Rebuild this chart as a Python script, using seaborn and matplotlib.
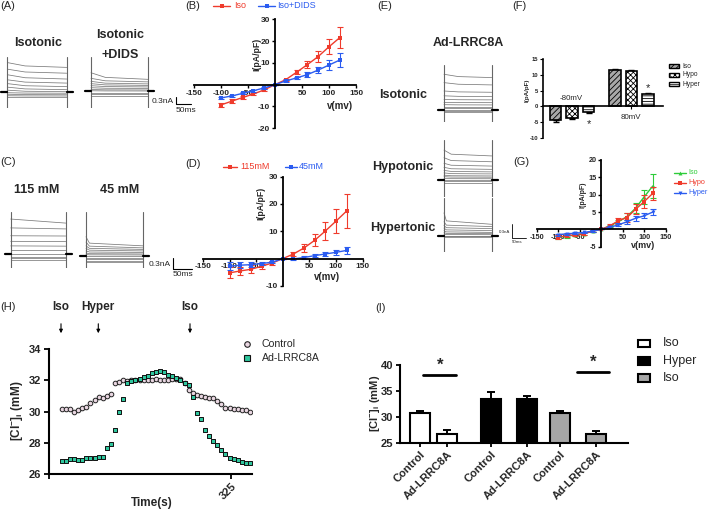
import numpy as np
import matplotlib
matplotlib.use('Agg')
import matplotlib.pyplot as plt
import seaborn as sns
from matplotlib.lines import Line2D
from matplotlib.patches import Rectangle

sns.set_style('ticks')
plt.rcParams['font.family'] = ['Liberation Sans', 'DejaVu Sans']
plt.rcParams['mathtext.fontset'] = 'custom'
plt.rcParams['mathtext.rm'] = 'Liberation Sans'
plt.rcParams['mathtext.bf'] = 'Liberation Sans:bold'
plt.rcParams['hatch.linewidth'] = 0.6

# ---------------- data ----------------
volt = [-100, -80, -60, -40, -20, 0, 20, 40, 60, 80, 100, 120]

B_iso = [-9.3, -7.6, -5.9, -4.3, -2.4, 0, 2.3, 5.7, 9.2, 12.9, 17.4, 21.6]
B_iso_err = [1.0, 0.8, 0.6, 0.6, 0.5, 0, 0.5, 0.8, 1.5, 2.5, 3.5, 4.8]
B_dids = [-6.1, -5.2, -4.0, -2.8, -1.5, 0, 1.7, 3.1, 4.6, 6.7, 9.0, 11.3]
B_dids_err = [0.5, 0.5, 0.4, 0.4, 0.3, 0, 0.4, 0.6, 1.0, 1.5, 2.3, 3.0]

D_115 = [-5.2, -4.5, -3.9, -2.8, -1.6, 0, 1.7, 3.9, 6.7, 10.1, 13.7, 17.4]
D_115_err = [2.0, 1.6, 1.5, 1.0, 0.6, 0, 0.6, 1.5, 2.2, 3.2, 4.5, 6.2]
D_45 = [-2.8, -2.4, -2.2, -1.8, -1.3, 0, -0.1, 0.4, 1.1, 1.7, 2.3, 3.0]
D_45_err = [1.5, 1.2, 1.0, 0.6, 0.4, 0, 0.3, 0.4, 0.5, 0.8, 1.0, 1.2]

G_iso = [-2.3, -2.0, -1.6, -1.2, -0.5, 0, 1.0, 2.2, 3.7, 6.1, 9.4, 12.5]
G_iso_err = [0.5, 0.4, 0.4, 0.3, 0.2, 0, 0.3, 0.6, 1.0, 1.5, 2.0, 3.5]
G_hypo = [-2.3, -1.8, -1.6, -1.3, -0.5, 0, 1.0, 2.5, 3.4, 5.8, 8.0, 10.4]
G_hypo_err = [0.6, 0.5, 0.4, 0.4, 0.3, 0, 0.6, 0.9, 1.2, 1.5, 1.8, 1.8]
G_hyper = [-1.5, -1.3, -1.1, -0.9, -0.5, 0, 0.6, 1.3, 2.2, 3.2, 3.9, 5.0]
G_hyper_err = [0.3, 0.3, 0.3, 0.2, 0.2, 0, 0.3, 0.4, 0.6, 0.7, 0.7, 1.0]

F_groups = ['-80mV', '80mV']
F_iso = [-4.5, 11.5]
F_hypo = [-3.7, 11.2]
F_hyper = [-1.8, 3.8]
F_iso_err = [0.6, 0.5]
F_hypo_err = [0.4, 0.4]
F_hyper_err = [0.3, 0.4]

H_control = [30.15, 30.15, 30.15, 30.0, 30.1, 30.2, 30.3, 30.55, 30.75, 30.9,
             30.85, 31.0, 31.1, 31.8, 31.9, 32.0, 31.95, 32.0, 32.0, 32.0,
             32.0, 32.0, 32.0, 32.1, 32.0, 32.0, 32.0, 32.05, 32.1, 32.05,
             31.8, 31.35, 31.2, 31.05, 31.0, 30.9, 30.85, 30.85, 30.7, 30.45,
             30.2, 30.2, 30.15, 30.15, 30.1, 30.1, 30.0]
H_ad = [26.85, 26.85, 26.95, 26.95, 26.9, 26.9, 27.0, 27.0, 27.05, 27.1,
        27.1, 27.65, 27.9, 28.8, 30.0, 30.8, 31.8, 31.95, 32.0, 32.1,
        32.2, 32.3, 32.45, 32.55, 32.6, 32.5, 32.35, 32.3, 32.15, 32.0,
        31.85, 31.7, 30.95, 29.9, 29.55, 28.8, 28.45, 28.1, 27.85, 27.55,
        27.3, 27.05, 26.95, 26.9, 26.75, 26.7, 26.7]
H_time = 35 + 7 * np.arange(len(H_control))

I_labels = ['Control', 'Ad-LRRC8A', 'Control', 'Ad-LRRC8A', 'Control', 'Ad-LRRC8A']
I_vals = [30.8, 26.7, 33.4, 33.4, 30.8, 26.6]
I_err = [0.4, 0.7, 1.3, 0.7, 0.4, 0.6]

# current traces (nA, relative to holding level): start and end of the step
A_iso_start = [1.15, 0.89, 0.67, 0.47, 0.32, 0.18, 0.06, -0.04, -0.10, -0.16, -0.22]
A_iso_end = [0.96, 0.73, 0.50, 0.34, 0.20, 0.08, 0.0, -0.06, -0.12, -0.17, -0.22]
A_dids_start = [0.72, 0.50, 0.38, 0.29, 0.21, 0.13, 0.06, 0.01, -0.06, -0.12, -0.18]
A_dids_end = [0.46, 0.36, 0.28, 0.22, 0.16, 0.10, 0.04, 0.0, -0.06, -0.12, -0.18]
C_115_start = [1.38, 1.03, 0.72, 0.50, 0.32, 0.16, 0.0, -0.10, -0.16, -0.22]
C_115_end = [1.22, 0.99, 0.71, 0.49, 0.31, 0.16, 0.0, -0.10, -0.16, -0.22]
C_45_start = [0.76, 0.55, 0.40, 0.30, 0.20, 0.12, 0.06, 0.0, -0.06, -0.12, -0.18, -0.24]
C_45_end = [0.40, 0.32, 0.26, 0.20, 0.14, 0.08, 0.04, 0.0, -0.06, -0.12, -0.18, -0.24]
E_iso_start = [1.41, 1.08, 0.75, 0.56, 0.42, 0.30, 0.21, 0.13, 0.07, 0.0, -0.04, -0.08]
E_iso_end = [1.28, 0.99, 0.70, 0.53, 0.40, 0.29, 0.20, 0.13, 0.07, 0.0, -0.04, -0.08]
E_hypo_start = [1.18, 0.88, 0.66, 0.50, 0.38, 0.28, 0.19, 0.13, 0.06, 0.0, -0.05, -0.11]
E_hypo_end = [0.95, 0.72, 0.55, 0.42, 0.32, 0.24, 0.16, 0.11, 0.05, 0.0, -0.05, -0.11]
E_hyper_start = [0.90, 0.55, 0.40, 0.30, 0.20, 0.12, 0.06, 0.0, -0.02, -0.05]
E_hyper_end = [0.45, 0.36, 0.28, 0.20, 0.13, 0.08, 0.04, 0.0, -0.02, -0.05]

RED = '#ef3b2c'
BLUE = '#2b5cf0'
GREEN = '#2ecc3a'

# ---------------- figure helpers ----------------
W, H = 709, 512
fig = plt.figure(figsize=(W / 100, H / 100), dpi=100)


def add_ax(x0, y0, x1, y1):
    return fig.add_axes([x0 / W, 1 - y1 / H, (x1 - x0) / W, (y1 - y0) / H])


def ftext(x, y, s, **kw):
    kw.setdefault('ha', 'center')
    kw.setdefault('va', 'center')
    return fig.text(x / W, 1 - y / H, s, **kw)


def fline(xs, ys, **kw):
    ln = Line2D([x / W for x in xs], [1 - y / H for y in ys], transform=fig.transFigure, **kw)
    fig.add_artist(ln)
    return ln


K = 0.3 / 7.6  # nA per pixel


def traces(x0, y0, x1, y1, base, starts, ends, knee):
    w = x1 - x0
    ax = add_ax(x0 - 8, y0, x1 + 8, y1)
    ax.set_xlim(-8 / w, 1 + 8 / w)
    lo, hi = -(y1 - base) * K, (base - y0) * K
    ax.set_ylim(lo, hi)
    for s, e in zip(starts, ends):
        ax.plot([0, knee, 1], [s, e + 0.3 * (s - e), e], color='#7a7a7a', lw=0.55)
    ax.plot([0, 0], [lo, hi], color='#666666', lw=0.8)
    ax.plot([1, 1], [lo, hi], color='#666666', lw=0.8)
    ax.plot([-6 / w, 0], [0, 0], color='black', lw=1.6)
    ax.plot([1, 1 + 6 / w], [0, 0], color='black', lw=1.6)
    ax.axis('off')
    return ax


def scalebar(xb, yt, yb, xr, tx, ty, fs1, fs2, lw=0.8):
    fline([xb, xb, xr], [yt, yb, yb], color='black', lw=lw)
    ftext(xb - 2, (yt + yb) / 2 + 1, '0.3nA', ha='right', fontsize=fs1)
    ftext(tx, ty, '50ms', ha='left', fontsize=fs2)


def iv_panel(box, xlim, ylim, yticks, series, fs=6, ms=3.2):
    ax = add_ax(*box)
    for y, err, color, marker in series:
        sns.lineplot(x=volt, y=y, ax=ax, color=color, marker=marker, markersize=ms,
                     markeredgewidth=0, linewidth=1.0, legend=False, errorbar=None)
        ax.errorbar(volt, y, yerr=err, fmt='none', ecolor=color, elinewidth=0.8,
                    capsize=2, capthick=0.8)
    ax.set_xlim(*xlim)
    ax.set_ylim(*ylim)
    ax.spines['left'].set_position(('data', 0))
    ax.spines['bottom'].set_position(('data', 0))
    ax.spines['top'].set_visible(False)
    ax.spines['right'].set_visible(False)
    for sp in ('left', 'bottom'):
        ax.spines[sp].set_linewidth(1.3)
        ax.spines[sp].set_color('black')
    xt = [-150, -100, -50, 50, 100, 150]
    ax.set_xticks(xt)
    ax.set_xticklabels([str(v) for v in xt], fontsize=fs, fontweight='bold')
    ax.set_yticks(yticks)
    ax.set_yticklabels([str(v) for v in yticks], fontsize=fs, fontweight='bold')
    ax.tick_params(direction='out', length=2.5, width=1.0, pad=1, color='black')
    ax.set_xlabel('')
    ax.set_ylabel('')
    ax.patch.set_alpha(0)
    return ax


def leg_line(x0, x1, y, color, marker, text, tx, fs, ms=3.2):
    fline([x0, x1], [y, y], color=color, lw=1.0)
    fline([(x0 + x1) / 2], [y], color=color, marker=marker, markersize=ms, markeredgewidth=0)
    ftext(tx, y, text, ha='left', fontsize=fs, color=color)


# ---------------- panel labels ----------------
for lab, x, y in [('(A)', 0, 6), ('(B)', 185, 6), ('(C)', 0, 162), ('(D)', 185, 164),
                  ('(E)', 377, 6), ('(F)', 512, 6), ('(G)', 513, 162), ('(H)', 0, 307),
                  ('(I)', 375, 308)]:
    ftext(x, y, lab, ha='left', fontsize=8)

# ---------------- A ----------------
ftext(38, 42.7, 'Isotonic', fontsize=9, fontweight='bold')
ftext(120, 35, 'Isotonic', fontsize=9, fontweight='bold')
ftext(120, 55, '+DIDS', fontsize=9, fontweight='bold')
traces(7.3, 57, 66.7, 108, 91.7, A_iso_start, A_iso_end, 0.3)
traces(91, 57, 148.3, 108, 91, A_dids_start, A_dids_end, 0.25)
scalebar(175.7, 96.7, 104.3, 191, 175.5, 111, 6, 6)

# ---------------- C ----------------
ftext(37, 190, '115 mM', fontsize=9, fontweight='bold')
ftext(120, 190, '45 mM', fontsize=9, fontweight='bold')
traces(10.7, 211.7, 65.7, 268, 254, C_115_start, C_115_end, 0.7)
traces(86, 211.7, 143.3, 268, 256, C_45_start, C_45_end, 0.06)
scalebar(173, 258, 269, 192, 173, 274.5, 6, 6)

# ---------------- B ----------------
iv_panel((194, 19.3, 356, 128.2), (-150, 150), (-20, 30), [-20, -10, 10, 20, 30],
         [(B_iso, B_iso_err, RED, 's'), (B_dids, B_dids_err, BLUE, 's')])
ftext(340, 105.7, 'v(mv)', fontsize=7, fontweight='bold')
ftext(257, 54, 'I(pA/pF)', fontsize=6.3, fontweight='bold', rotation=90)
leg_line(213, 230, 5.5, RED, 's', 'Iso', 234, 6.5)
leg_line(258, 275, 5.5, BLUE, 's', 'Iso+DIDS', 277.5, 6.5)

# ---------------- D ----------------
iv_panel((203, 176.5, 362.6, 286), (-150, 150), (-10, 30), [-10, 10, 20, 30],
         [(D_115, D_115_err, RED, 's'), (D_45, D_45_err, BLUE, 's')])
ftext(326.7, 276.7, 'v(mv)', fontsize=7, fontweight='bold')
ftext(260.5, 203, 'I(pA/pF)', fontsize=6.3, fontweight='bold', rotation=90)
leg_line(223, 237, 166.7, RED, 's', '115mM', 240, 6.5)
leg_line(285, 297, 166.7, BLUE, 's', '45mM', 298.5, 6.5)

# ---------------- E ----------------
ftext(468, 43.3, 'Ad-LRRC8A', fontsize=9, fontweight='bold')
ftext(403, 95, 'Isotonic', fontsize=9, fontweight='bold')
ftext(403, 167, 'Hypotonic', fontsize=9, fontweight='bold')
ftext(403, 228, 'Hypertonic', fontsize=9, fontweight='bold')
traces(444, 65, 491.7, 121.7, 110, E_iso_start, E_iso_end, 0.3)
traces(444, 140, 491.7, 196.7, 180, E_hypo_start, E_hypo_end, 0.15)
traces(444, 198, 491.7, 251.7, 235.7, E_hyper_start, E_hyper_end, 0.05)
scalebar(511.7, 224, 237.7, 525.7, 512, 241.7, 3.2, 3.2, lw=0.6)

# ---------------- F ----------------
axF = add_ax(542.7, 59.3, 662.7, 137.7)
f_pos = [0, 1, 2, 3.62, 4.6, 5.62]
f_vals = [F_iso[0], F_hypo[0], F_hyper[0], F_iso[1], F_hypo[1], F_hyper[1]]
f_err = [F_iso_err[0], F_hypo_err[0], F_hyper_err[0], F_iso_err[1], F_hypo_err[1], F_hyper_err[1]]
f_face = ['#a8a8a8', 'white', 'white'] * 2
f_hatch = ['//////', 'xxxxxx', '------'] * 2
for p, v, e, fc, ht in zip(f_pos, f_vals, f_err, f_face, f_hatch):
    axF.bar(p, v, width=0.7, color=fc, edgecolor='black', linewidth=1.2, hatch=ht, zorder=2)
    axF.errorbar(p, v, yerr=[[e if v < 0 else 0], [e if v > 0 else 0]], fmt='none',
                 ecolor='black', elinewidth=1.0, capsize=2.2, capthick=1.0, zorder=1)
axF.set_xlim(-0.78, 6.5)
axF.set_ylim(-10, 15)
axF.spines['bottom'].set_position(('data', 0))
axF.spines['top'].set_visible(False)
axF.spines['right'].set_visible(False)
for sp in ('left', 'bottom'):
    axF.spines[sp].set_linewidth(1.2)
    axF.spines[sp].set_color('black')
axF.set_xticks([4.6])
axF.set_xticklabels([''])
axF.set_yticks([-10, -5, 0, 5, 10, 15])
axF.set_yticklabels(['-10', '-5', '0', '5', '10', '15'], fontsize=4.2, fontweight='bold')
axF.tick_params(direction='out', length=2, width=0.8, pad=1, color='black')
axF.patch.set_alpha(0)
ftext(571, 99, F_groups[0], fontsize=5.7)
ftext(631, 117.3, F_groups[1], fontsize=5.7)
ftext(588.7, 124, '*', fontsize=8)
ftext(647.7, 88, '*', fontsize=8)
ftext(526.7, 90, 'I(pA/pF)', fontsize=4.5, fontweight='bold', rotation=90)
for y, fc, ht, lab in [(66, '#a8a8a8', '//////', 'Iso'), (75, 'white', 'xxxxxx', 'Hypo'),
                       (84, 'white', '------', 'Hyper')]:
    r = Rectangle((669.3 / W, 1 - (y + 2.3) / H), 10 / W, 4.6 / H, transform=fig.transFigure,
                  facecolor=fc, edgecolor='black', linewidth=1.0, hatch=ht)
    fig.add_artist(r)
    ftext(682.7, y, lab, ha='left', fontsize=4.8)

# ---------------- G ----------------
iv_panel((536.7, 160, 665.7, 246.7), (-150, 150), (-5, 20), [-5, 5, 10, 15, 20],
         [(G_iso, G_iso_err, GREEN, '^'), (G_hypo, G_hypo_err, RED, 's'),
          (G_hyper, G_hyper_err, BLUE, 'v')], fs=5.2, ms=2.8)
ftext(643, 245.5, 'v(mv)', fontsize=6.5, fontweight='bold')
ftext(583, 195, 'I(pA/pF)', fontsize=5.0, fontweight='bold', rotation=90)
leg_line(674, 686, 172.7, GREEN, '^', 'Iso', 688, 5.2, ms=2.8)
leg_line(674, 686, 182.7, RED, 's', 'Hypo', 688, 5.2, ms=2.8)
leg_line(674, 686, 192.7, BLUE, 'v', 'Hyper', 688, 5.2, ms=2.8)

# ---------------- H ----------------
axH = add_ax(49, 349, 251.7, 474)
sns.scatterplot(x=H_time, y=H_control, ax=axH, marker='o', s=11, facecolor='#ead7e2',
                edgecolor='#222222', linewidth=0.7, legend=False, zorder=3)
sns.scatterplot(x=H_time, y=H_ad, ax=axH, marker='s', s=11, facecolor='#2fc79e',
                edgecolor='#111111', linewidth=0.7, legend=False, zorder=4)
axH.set_xlim(13, 360)
axH.set_ylim(26, 34)
axH.spines['top'].set_visible(False)
axH.spines['right'].set_visible(False)
for sp in ('left', 'bottom'):
    axH.spines[sp].set_linewidth(1.5)
    axH.spines[sp].set_color('black')
axH.set_yticks([26, 28, 30, 32, 34])
axH.set_yticklabels(['26', '28', '30', '32', '34'], fontsize=8, fontweight='bold')
axH.set_xticks([13, 325])
axH.set_xticklabels(['', '325'], fontsize=8, fontweight='bold', rotation=45, ha='right',
                    rotation_mode='anchor')
axH.tick_params(direction='out', length=3.5, width=1.3, pad=2, color='black')
axH.set_xlabel('')
axH.set_ylabel('')
axH.patch.set_alpha(0)
ftext(151.7, 503, 'Time(s)', fontsize=8.5, fontweight='bold')
ftext(16.7, 411, r'[Cl$^{\mathbf{-}}$]$_{\mathbf{i}}$ (mM)', fontsize=8.5, fontweight='bold', rotation=90)
for x, lab in [(61, 'Iso'), (98.3, 'Hyper'), (190, 'Iso')]:
    ftext(x, 306.7, lab, fontsize=8.5, fontweight='bold')
    axH.annotate('', xy=(x / W, 1 - 336 / H), xytext=(x / W, 1 - 321 / H),
                 xycoords='figure fraction', textcoords='figure fraction',
                 arrowprops=dict(arrowstyle='-|>', lw=0.8, color='black', mutation_scale=5),
                 annotation_clip=False)
fline([246.7], [344], marker='o', markersize=4, markerfacecolor='#ead7e2',
      markeredgecolor='#222222', markeredgewidth=0.8, linestyle='none')
fline([246.7], [358.3], marker='s', markersize=4, markerfacecolor='#2fc79e',
      markeredgecolor='#111111', markeredgewidth=0.8, linestyle='none')
ftext(261.5, 344, 'Control', ha='left', fontsize=7.6)
ftext(261.5, 358.3, 'Ad-LRRC8A', ha='left', fontsize=7.6)

# ---------------- I ----------------
axI = add_ax(400, 365, 628, 442.7)
i_pos = [0, 0.92, 2.42, 3.65, 4.78, 6.01]
i_face = ['white', 'white', 'black', 'black', '#a6a6a6', '#a6a6a6']
for p, v, e, fc in zip(i_pos, I_vals, I_err, i_face):
    axI.bar(p, v, width=0.7, color=fc, edgecolor='black', linewidth=1.5, zorder=2)
    axI.errorbar(p, v, yerr=[[0], [e]], fmt='none', ecolor='black', elinewidth=1.4,
                 capsize=3, capthick=1.4, zorder=1)
axI.set_xlim(-0.68, 7.1)
axI.set_ylim(25, 40)
axI.spines['top'].set_visible(False)
axI.spines['right'].set_visible(False)
for sp in ('left', 'bottom'):
    axI.spines[sp].set_linewidth(1.5)
    axI.spines[sp].set_color('black')
axI.set_yticks([25, 30, 35, 40])
axI.set_yticklabels(['25', '30', '35', '40'], fontsize=8, fontweight='bold')
axI.set_xticks(i_pos)
axI.set_xticklabels(I_labels, fontsize=8, fontweight='bold', rotation=45, ha='right',
                    rotation_mode='anchor')
axI.tick_params(direction='out', length=3, width=1.3, pad=2, color='black')
axI.patch.set_alpha(0)
ftext(375, 403, r'[Cl$^{\mathbf{-}}$]$_{\mathbf{i}}$ (mM)', fontsize=8, fontweight='bold', rotation=90)
fline([423.3, 456], [375, 375], color='black', lw=2)
ftext(440, 365, '*', fontsize=12, fontweight='bold')
fline([577.3, 609.3], [372.3, 372.3], color='black', lw=2)
ftext(593.3, 362, '*', fontsize=12, fontweight='bold')
for y, fc, lab in [(343.3, 'white', 'Iso'), (360.7, 'black', 'Hyper'), (377.7, '#a6a6a6', 'Iso')]:
    r = Rectangle((638 / W, 1 - (y + 3.8) / H), 12 / W, 7.6 / H, transform=fig.transFigure,
                  facecolor=fc, edgecolor='black', linewidth=1.5)
    fig.add_artist(r)
    ftext(663, y, lab, ha='left', fontsize=9)

fig.savefig('out.png', dpi=100)
